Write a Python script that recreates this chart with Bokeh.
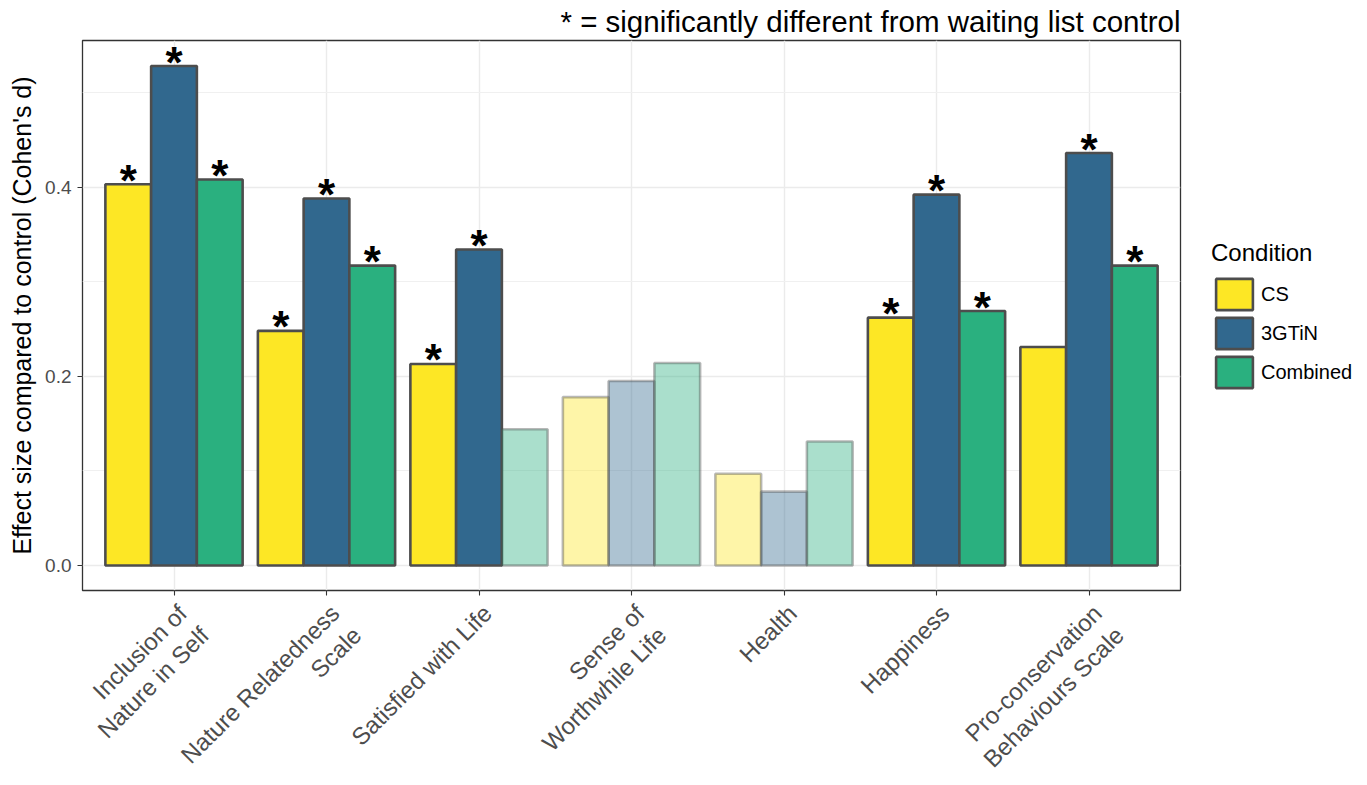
from bokeh.plotting import figure
from bokeh.models import (ColumnDataSource, Range1d, FixedTicker, Legend, LegendItem, Title)
from bokeh.transform import dodge
from bokeh.core.properties import value
from bokeh.embed import file_html
from bokeh.resources import INLINE
import math

# ---- data ----
outcomes = ["Inclusion of Nature in Self", "Nature Relatedness Scale", "Satisfied with Life",
            "Sense of Worthwhile Life", "Health", "Happiness", "Pro-conservation Behaviours Scale"]
outcome_labels = ["Inclusion of\nNature in Self", "Nature Relatedness\nScale", "Satisfied with Life",
                  "Sense of\nWorthwhile Life", "Health", "Happiness", "Pro-conservation\nBehaviours Scale"]
conditions = ["CS", "3GTiN", "Combined"]
colors = ["#FDE725", "#31688E", "#2AB07F"]

cs_d = [0.403, 0.248, 0.213, 0.178, 0.097, 0.262, 0.231]
g3_d = [0.528, 0.388, 0.334, 0.195, 0.078, 0.392, 0.436]
comb_d = [0.408, 0.317, 0.144, 0.214, 0.131, 0.269, 0.317]

cs_sig = [1, 1, 1, 0, 0, 1, 0]
g3_sig = [1, 1, 1, 0, 0, 1, 1]
comb_sig = [1, 1, 0, 0, 0, 1, 1]

cs_faded = [0, 0, 0, 1, 1, 0, 0]
g3_faded = [0, 0, 0, 1, 1, 0, 0]
comb_faded = [0, 0, 1, 1, 1, 0, 0]

y_ticks = [0.0, 0.2, 0.4]
y_minor = [0.1, 0.3, 0.5]

FONT = "Liberation Sans"

p = figure(frame_width=1098, frame_height=550,
           x_range=Range1d(0.4, 7.6), y_range=Range1d(-0.0265, 0.555),
           output_backend="svg", toolbar_location=None,
           min_border_left=82, min_border_right=168, min_border_top=0, min_border_bottom=188,
           background_fill_color="white", border_fill_color="white")

p.add_layout(Title(text="* = significantly different from waiting list control", align="right",
                   text_font=FONT, text_font_size="29.5px", text_font_style="normal",
                   text_color="black", standoff=5), "above")

series = [cs_d, g3_d, comb_d]
sigs = [cs_sig, g3_sig, comb_sig]
fadeds = [cs_faded, g3_faded, comb_faded]
offsets = [-0.3, 0.0, 0.3]

legend_items = []
for name, col, vals, sg, fd, off in zip(conditions, colors, series, sigs, fadeds, offsets):
    xs = [i + 1 for i in range(len(outcomes))]
    solid = ColumnDataSource(dict(x=[x for x, f in zip(xs, fd) if not f],
                                  top=[v for v, f in zip(vals, fd) if not f]))
    faded = ColumnDataSource(dict(x=[x for x, f in zip(xs, fd) if f],
                                  top=[v for v, f in zip(vals, fd) if f]))
    r = p.vbar(x=dodge("x", off, range=p.x_range), top="top", bottom=0, width=0.3, source=solid,
               fill_color=col, line_color="#4D4D4D", line_width=2.6)
    p.vbar(x=dodge("x", off, range=p.x_range), top="top", bottom=0, width=0.3, source=faded,
           fill_color=col, fill_alpha=0.4, line_color="#4D4D4D", line_alpha=0.4, line_width=2.6)
    legend_items.append(LegendItem(label=name, renderers=[r]))
    star = ColumnDataSource(dict(x=[x for x, s in zip(xs, sg) if s],
                                 y=[v for v, s in zip(vals, sg) if s],
                                 t=["*" for s in sg if s]))
    p.text(x=dodge("x", off, range=p.x_range), y="y", text="t", source=star,
           text_font=value(FONT), text_font_size="44px", text_font_style="bold",
           text_align="center", text_baseline="alphabetic", y_offset=-4, text_color="black")

# x axis: ticks only; the category labels are drawn as rotated multi-line text below the frame
p.xaxis.ticker = FixedTicker(ticks=[i + 1 for i in range(len(outcomes))])
p.xaxis.major_label_overrides = {i + 1: "" for i in range(len(outcomes))}
p.xaxis.major_label_text_font_size = "1px"
lab_src = ColumnDataSource(dict(x=[i + 1 for i in range(len(outcomes))],
                                y=[p.y_range.start] * len(outcomes),
                                t=outcome_labels))
p.text(x="x", y="y", text="t", source=lab_src, angle=math.pi / 4,
       x_offset=-1, y_offset=9, text_align="right", text_baseline="top",
       text_font=value(FONT), text_font_size="24px", text_color="#4D4D4D",
       text_line_height=1.15, level="overlay")

p.yaxis.ticker = FixedTicker(ticks=y_ticks, minor_ticks=y_minor)
p.yaxis.major_label_overrides = {t: f"{t:.1f}" for t in y_ticks}
p.yaxis.major_label_text_font = FONT
p.yaxis.major_label_text_font_size = "19px"
p.yaxis.major_label_text_color = "#4D4D4D"
p.yaxis.major_label_standoff = 6
p.yaxis.axis_label = "Effect size compared to control (Cohen's d)"
p.yaxis.axis_label_text_font = FONT
p.yaxis.axis_label_text_font_size = "25px"
p.yaxis.axis_label_text_font_style = "normal"
p.yaxis.axis_label_text_color = "black"
p.yaxis.axis_label_standoff = 6

for ax in (p.xaxis, p.yaxis):
    ax.axis_line_color = None
    ax.major_tick_line_color = "#333333"
    ax.major_tick_line_width = 1.1
    ax.major_tick_out = 5
    ax.major_tick_in = 0
    ax.minor_tick_line_color = None

p.xgrid.ticker = FixedTicker(ticks=[i + 1 for i in range(len(outcomes))])
p.xgrid.grid_line_color = "#EBEBEB"
p.xgrid.grid_line_width = 1.4
p.ygrid.grid_line_color = "#EBEBEB"
p.ygrid.grid_line_width = 1.4
p.ygrid.minor_grid_line_color = "#F0F0F0"
p.ygrid.minor_grid_line_width = 1.0

p.outline_line_color = "#333333"
p.outline_line_width = 1.3

legend = Legend(items=legend_items, title="Condition", location="center_left",
                title_text_font=FONT, title_text_font_size="24px", title_text_font_style="normal",
                title_text_color="black", title_standoff=8,
                label_text_font=FONT, label_text_font_size="20px", label_text_color="black",
                glyph_width=46, glyph_height=39, spacing=0, label_standoff=4,
                margin=31, padding=10, border_line_color=None, background_fill_alpha=0)
p.add_layout(legend, "right")

open("out.html", "w").write(file_html(p, INLINE))
